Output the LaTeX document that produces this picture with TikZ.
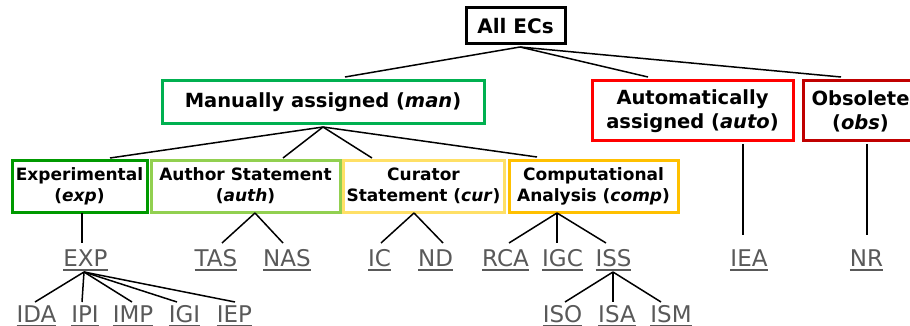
\documentclass[tikz,border=0pt]{standalone}
\usepackage{fontspec}
\setmainfont{DejaVu Sans}
\definecolor{cman}{HTML}{00B050}
\definecolor{cexp}{HTML}{009900}
\definecolor{cauth}{HTML}{92D050}
\definecolor{ccur}{HTML}{FFE066}
\definecolor{ccomp}{HTML}{FFC000}
\definecolor{cauto}{HTML}{FF0000}
\definecolor{cobs}{HTML}{C00000}
\definecolor{lgray}{HTML}{595959}
\newcommand{\ulx}[1]{\setbox0\hbox{#1}\makebox[0pt][l]{\rule[-5pt]{\wd0}{1.7pt}}\box0}
\tikzset{
  box/.style={draw, line width=3pt, inner sep=0pt, outer sep=0pt, align=center, fill=white},
  topbox/.style={box, font=\bfseries\fontsize{19.5}{24}\selectfont},
  subbox/.style={box, font=\bfseries\fontsize{17}{21}\selectfont, minimum height=52pt},
  leaf/.style={inner sep=0pt, outer sep=0pt, text=lgray, font=\fontsize{23}{25}\selectfont, text height=17pt, text depth=5.2pt, anchor=base},
  conn/.style={line width=1.5pt, black}
}
\begin{document}
\begin{tikzpicture}[x=1pt,y=-1pt]
\useasboundingbox (0,0) rectangle (910,326);
\clip (0,0) rectangle (910,326);
% boxes
\node[topbox, minimum width=99pt, minimum height=36pt, font=\bfseries\fontsize{20}{24}\selectfont] (all) at (515.5,26) {All ECs};
\node[topbox, draw=cman, minimum width=322pt, minimum height=43pt] (man) at (323,102.5) {Manually assigned (\textit{man})};
\node[topbox, draw=cauto, minimum width=201pt, minimum height=60pt] (auto) at (692.5,111) {Automatically\\assigned (\textit{auto})};
\node[topbox, draw=cobs, minimum width=115pt, minimum height=60pt] (obs) at (860.5,111) {Obsolete\\(\textit{obs})};
\node[subbox, draw=cexp, minimum width=135pt] (exp) at (79.5,186) {Experimental\\(\textit{exp})};
\node[subbox, draw=cauth, minimum width=189pt] (auth) at (245.5,186) {Author Statement\\(\textit{auth})};
\node[subbox, draw=ccur, minimum width=161pt] (cur) at (423.5,186) {Curator\\Statement (\textit{cur})};
\node[subbox, draw=ccomp, minimum width=169pt] (comp) at (593.5,186) {Computational\\Analysis (\textit{comp})};
% leaves row 2
\node[leaf] (EXP) at (85.5,266) {\ulx{EXP}};
\node[leaf] (TAS) at (216,266) {\ulx{TAS}};
\node[leaf] (NAS) at (287,266) {\ulx{NAS}};
\node[leaf] (IC) at (379.5,266) {\ulx{IC}};
\node[leaf] (ND) at (435.5,266) {\ulx{ND}};
\node[leaf] (RCA) at (505.5,266) {\ulx{RCA}};
\node[leaf] (IGC) at (562.5,266) {\ulx{IGC}};
\node[leaf] (ISS) at (613.5,266) {\ulx{ISS}};
\node[leaf] (IEA) at (749,266) {\ulx{IEA}};
\node[leaf] (NR) at (866.5,266) {\ulx{NR}};
% leaves row 3
\node[leaf] (IDA) at (36.5,322) {\ulx{IDA}};
\node[leaf] (IPI) at (85,322) {\ulx{IPI}};
\node[leaf] (IMP) at (133,322) {\ulx{IMP}};
\node[leaf] (IGI) at (184.5,322) {\ulx{IGI}};
\node[leaf] (IEP) at (234.5,322) {\ulx{IEP}};
\node[leaf] (ISO) at (562.5,322) {\ulx{ISO}};
\node[leaf] (ISA) at (617,322) {\ulx{ISA}};
\node[leaf] (ISM) at (671,322) {\ulx{ISM}};
% connectors
\draw[conn] ([xshift=4.5pt,yshift=-3pt]all.south) -- ([xshift=22pt,yshift=4pt]man.north);
\draw[conn] ([xshift=4.5pt,yshift=-3pt]all.south) -- ([xshift=-44.5pt,yshift=4pt]auto.north);
\draw[conn] ([xshift=4.5pt,yshift=-3pt]all.south) -- ([xshift=-19.5pt,yshift=4pt]obs.north);
\draw[conn] ([yshift=-3pt]man.south) -- ([xshift=30.5pt,yshift=2pt]exp.north);
\draw[conn] ([yshift=-3pt]man.south) -- ([xshift=37.5pt,yshift=2pt]auth.north);
\draw[conn] ([yshift=-3pt]man.south) -- ([xshift=-51.5pt,yshift=2pt]cur.north);
\draw[conn] ([yshift=-3pt]man.south) -- ([xshift=-56.5pt,yshift=3pt]comp.north);
\draw[conn] ([xshift=2.5pt,yshift=-1pt]exp.south) -- ([xshift=-3.5pt,yshift=6pt]EXP.north);
\draw[conn] ([xshift=-1.5pt,yshift=-0.8pt]EXP.south) -- ([xshift=-1.5pt,yshift=3pt]IDA.north);
\draw[conn] ([xshift=-1.5pt,yshift=-0.8pt]EXP.south) -- ([xshift=-3pt,yshift=3pt]IPI.north);
\draw[conn] ([xshift=-1.5pt,yshift=-0.8pt]EXP.south) -- ([xshift=-1pt,yshift=3pt]IMP.north);
\draw[conn] ([xshift=-1.5pt,yshift=-0.8pt]EXP.south) -- ([xshift=-7.5pt,yshift=3pt]IGI.north);
\draw[conn] ([xshift=-1.5pt,yshift=-0.8pt]EXP.south) -- ([xshift=0.5pt,yshift=3pt]IEP.north);
\draw[conn] ([xshift=9.5pt,yshift=-1pt]auth.south) -- ([xshift=6pt,yshift=6pt]TAS.north);
\draw[conn] ([xshift=9.5pt,yshift=-1pt]auth.south) -- ([xshift=-4pt,yshift=6pt]NAS.north);
\draw[conn] ([xshift=-9.5pt,yshift=-1pt]cur.south) -- ([xshift=1.5pt,yshift=6pt]IC.north);
\draw[conn] ([xshift=-9.5pt,yshift=-1pt]cur.south) -- ([xshift=7.5pt,yshift=6pt]ND.north);
\draw[conn] ([xshift=-36.5pt,yshift=-1pt]comp.south) -- ([xshift=3.5pt,yshift=6pt]RCA.north);
\draw[conn] ([xshift=-36.5pt,yshift=-1pt]comp.south) -- ([xshift=-5.5pt,yshift=6pt]IGC.north);
\draw[conn] ([xshift=-36.5pt,yshift=-1pt]comp.south) -- ([xshift=-7.5pt,yshift=6pt]ISS.north);
\draw[conn] ([xshift=-0.5pt,yshift=-0.8pt]ISS.south) -- ([xshift=2.5pt,yshift=3pt]ISO.north);
\draw[conn] ([xshift=-0.5pt,yshift=-0.8pt]ISS.south) -- ([xshift=-4pt,yshift=3pt]ISA.north);
\draw[conn] ([xshift=-0.5pt,yshift=-0.8pt]ISS.south) -- ([xshift=-10pt,yshift=3pt]ISM.north);
\draw[conn] ([xshift=50.5pt,yshift=-3pt]auto.south) -- ([xshift=-6pt,yshift=14pt]IEA.north);
\draw[conn] ([xshift=6.5pt,yshift=-3pt]obs.south) -- ([xshift=0.5pt,yshift=14pt]NR.north);
\end{tikzpicture}
\end{document}
